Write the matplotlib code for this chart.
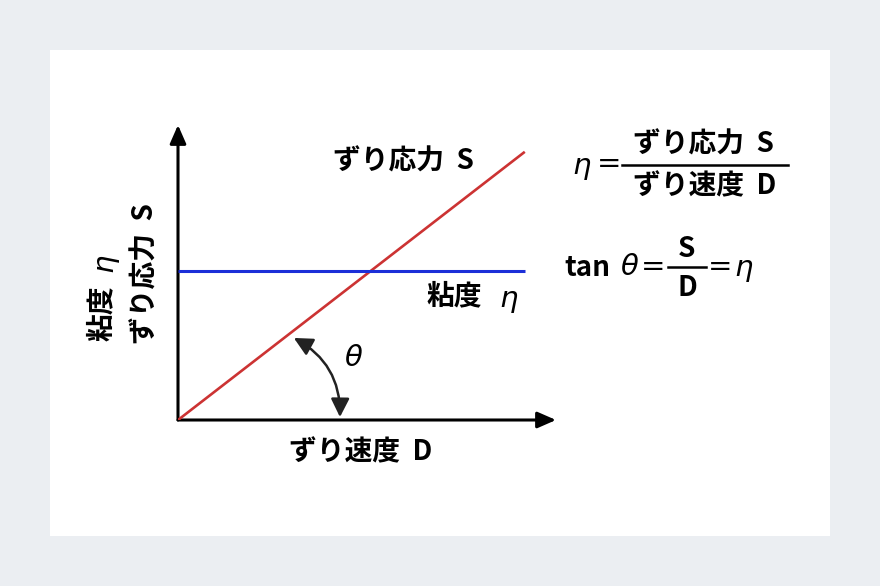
import matplotlib.pyplot as plt
from matplotlib.patches import Rectangle, FancyArrowPatch

# data (schematic: shear stress grows with shear rate, viscosity stays flat)
rate_D = [0.0, 1.0]
stress_S = [0.0, 1.0]
viscosity_eta = [0.556, 0.556]

label_stress = "ずり応力  S"
label_rate = "ずり速度  D"
label_visc = "粘度"

JP = ["Noto Sans CJK JP", "DejaVu Sans"]
GR = "DejaVu Sans"
W, H = 880, 586

fig = plt.figure(figsize=(W / 100, H / 100), dpi=100)
fig.patch.set_facecolor("#ebeef2")

# background layer in pixel coords, for the panel and the texts
bg = fig.add_axes([0, 0, 1, 1])
bg.set_xlim(0, W)
bg.set_ylim(H, 0)
bg.axis("off")
bg.add_patch(Rectangle((50, 50), 780, 486, facecolor="white", edgecolor="none"))

# plot axes
ax = fig.add_axes([178 / W, (H - 420) / H, 378 / W, 295 / H])
ax.set_xlim(0, 1.09)
ax.set_ylim(0, 1.10)
ax.axis("off")
ax.patch.set_alpha(0)

ax.plot(rate_D, stress_S, color="#cc3333", lw=1.9, solid_capstyle="butt", zorder=3)
ax.plot(rate_D, viscosity_eta, color="#1c2fd8", lw=2.2, solid_capstyle="butt", zorder=3)

arrow_kw = dict(arrowstyle="-|>,head_length=0.8,head_width=0.35", mutation_scale=14,
                color="black", lw=2.2, shrinkA=0, shrinkB=0, clip_on=False)
ax.add_patch(FancyArrowPatch((0, 0), (1, 0), transform=ax.transAxes, **arrow_kw))
ax.add_patch(FancyArrowPatch((0, 0), (0, 1), transform=ax.transAxes, **arrow_kw))

# theta arc
ax.add_patch(FancyArrowPatch((0.467, 0.011), (0.334, 0.306),
                             connectionstyle="arc3,rad=0.3",
                             arrowstyle="<|-|>,head_length=0.8,head_width=0.4",
                             mutation_scale=14, color="#222222", lw=1.8,
                             shrinkA=0, shrinkB=0, zorder=4))

fs = 20
gs = 21
jp_kw = dict(family=JP, size=fs, weight="bold")
gr_kw = dict(family=GR, style="italic", size=gs)

# labels inside the chart
bg.text(403, 162, label_stress, ha="center", va="center", **jp_kw)
bg.text(454, 296, label_visc, ha="center", va="center", **jp_kw)
bg.text(509, 299, "η", ha="center", va="center", **gr_kw)
bg.text(353, 358, "θ", ha="center", va="center", **gr_kw)
bg.text(361, 452, label_rate, ha="center", va="center", **jp_kw)

# y label, two rotated lines
bg.text(102, 313, label_visc, rotation=90, ha="center", va="center", **jp_kw)
bg.text(104, 263, "η", rotation=90, ha="center", va="center", **gr_kw)
bg.text(146, 274, label_stress, rotation=90, ha="center", va="center", **jp_kw)

# formula 1
bg.text(582, 166, "η", ha="center", va="center", **gr_kw)
bg.text(609, 164, "=", family=GR, size=gs, ha="center", va="center")
bg.plot([622, 788], [165, 165], color="black", lw=1.8)
bg.text(703, 145, label_stress, ha="center", va="center", **jp_kw)
bg.text(705, 186, label_rate, ha="center", va="center", **jp_kw)

# formula 2
bg.text(564, 268, "tan", ha="left", va="center", **jp_kw)
bg.text(629, 267, "θ", ha="center", va="center", **gr_kw)
bg.text(653, 267, "=", family=GR, size=gs, ha="center", va="center")
bg.plot([668, 706], [267, 267], color="black", lw=1.8)
bg.text(687, 249, "S", ha="center", va="center", **jp_kw)
bg.text(687, 288, "D", ha="center", va="center", **jp_kw)
bg.text(720, 267, "=", family=GR, size=gs, ha="center", va="center")
bg.text(744, 268, "η", ha="center", va="center", **gr_kw)

fig.savefig("out.png", dpi=100, facecolor=fig.get_facecolor())
